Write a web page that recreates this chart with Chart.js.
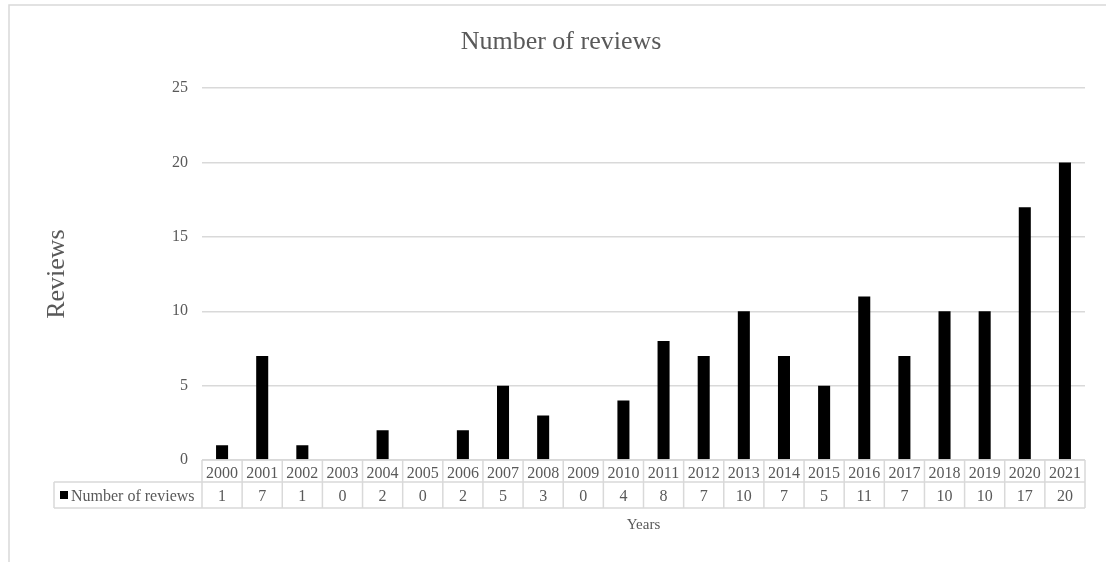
<!DOCTYPE html>
<html>
<head>
<meta charset="utf-8">
<title>Number of reviews</title>
<script src="https://cdn.jsdelivr.net/npm/chart.js@4/dist/chart.umd.min.js"></script>
<style>
  html, body { margin: 0; padding: 0; background: #ffffff; }
  canvas { display: block; }
</style>
</head>
<body>
<canvas id="chart" width="1106" height="562"></canvas>
<script>
// Publication years (category labels / table header)
const years = ['2000', '2001', '2002', '2003', '2004', '2005', '2006', '2007', '2008', '2009', '2010',
               '2011', '2012', '2013', '2014', '2015', '2016', '2017', '2018', '2019', '2020', '2021'];
// Number of reviews published per year
const reviews = [1, 7, 1, 0, 2, 0, 2, 5, 3, 0, 4, 8, 7, 10, 7, 5, 11, 7, 10, 10, 17, 20];
// Value axis ticks
const yTicks = [0, 5, 10, 15, 20, 25];

const seriesName = 'Number of reviews';
const FONT = "'Liberation Serif', 'Times New Roman', serif";
const TEXT = '#595959';
const LINE = '#d9d9d9';

// Outer chart frame
const framePlugin = {
  id: 'frame',
  beforeDraw(chart) {
    const ctx = chart.ctx;
    ctx.save();
    ctx.strokeStyle = LINE;
    ctx.lineWidth = 1.5;
    ctx.beginPath();
    ctx.moveTo(9, chart.height);
    ctx.lineTo(9, 5);
    ctx.lineTo(chart.width, 5);
    ctx.stroke();
    ctx.restore();
  }
};

// Data table under the plot: year header row, value row with legend key, axis caption
const dataTablePlugin = {
  id: 'dataTable',
  afterDraw(chart) {
    const ctx = chart.ctx;
    const x = chart.scales.x;
    const area = chart.chartArea;
    const labels = chart.data.labels;
    const values = chart.data.datasets[0].data;
    const step = x.getPixelForValue(1) - x.getPixelForValue(0);
    const top = area.bottom;
    const row1 = top + 22;
    const row2 = row1 + 26;
    const labelLeft = 54;

    ctx.save();
    ctx.strokeStyle = LINE;
    ctx.lineWidth = 1.5;
    ctx.beginPath();
    // horizontal rules
    ctx.moveTo(area.left, top); ctx.lineTo(area.right, top);
    ctx.moveTo(labelLeft, row1); ctx.lineTo(area.right, row1);
    ctx.moveTo(labelLeft, row2); ctx.lineTo(area.right, row2);
    // vertical rules
    ctx.moveTo(labelLeft, row1); ctx.lineTo(labelLeft, row2);
    for (let i = 0; i <= labels.length; i++) {
      const bx = x.getPixelForValue(0) - step / 2 + i * step;
      ctx.moveTo(bx, top); ctx.lineTo(bx, row2);
    }
    ctx.stroke();

    ctx.fillStyle = TEXT;
    ctx.font = '16px ' + FONT;
    ctx.textAlign = 'center';
    ctx.textBaseline = 'alphabetic';
    labels.forEach((lab, i) => {
      const cx = x.getPixelForValue(i);
      ctx.fillText(lab, cx, top + 18);
      ctx.fillText(String(values[i]), cx, row1 + 19);
    });

    // legend key + series name
    ctx.fillStyle = '#000000';
    ctx.fillRect(60, row1 + 9, 8, 8);
    ctx.fillStyle = TEXT;
    ctx.textAlign = 'left';
    ctx.fillText(chart.data.datasets[0].label, 71, row1 + 19);

    // category axis caption
    ctx.textAlign = 'center';
    ctx.font = '15px ' + FONT;
    ctx.fillText('Years', (area.left + area.right) / 2, 529);
    ctx.restore();
  }
};

new Chart(document.getElementById('chart'), {
  type: 'bar',
  data: {
    labels: years,
    datasets: [{
      label: seriesName,
      data: reviews,
      backgroundColor: '#000000',
      borderWidth: 0,
      barPercentage: 0.3,
      categoryPercentage: 1.0
    }]
  },
  options: {
    responsive: false,
    animation: false,
    layout: { padding: { left: 37, right: 21, top: 0, bottom: 0 } },
    plugins: {
      legend: { display: false },
      tooltip: { enabled: false },
      title: {
        display: true,
        text: 'Number of reviews',
        color: TEXT,
        font: { family: FONT, size: 26, weight: 'normal' },
        padding: { top: 27, bottom: 30 }
      }
    },
    scales: {
      x: {
        type: 'category',
        offset: true,
        grid: { display: false },
        border: { display: false },
        ticks: { display: false },
        afterFit(scale) { scale.height = 102; }
      },
      y: {
        min: 0,
        max: 25,
        afterBuildTicks(scale) { scale.ticks = yTicks.map(v => ({ value: v })); },
        grid: { color: LINE, lineWidth: 1.5, drawTicks: false },
        border: { display: false },
        ticks: {
          color: TEXT,
          font: { family: FONT, size: 16 },
          padding: 14
        },
        title: {
          display: true,
          text: 'Reviews',
          color: TEXT,
          font: { family: FONT, size: 26 },
          padding: { top: 5, bottom: 0 }
        },
        afterFit(scale) { scale.width = 165; }
      }
    }
  },
  plugins: [framePlugin, dataTablePlugin]
});
</script>
</body>
</html>
